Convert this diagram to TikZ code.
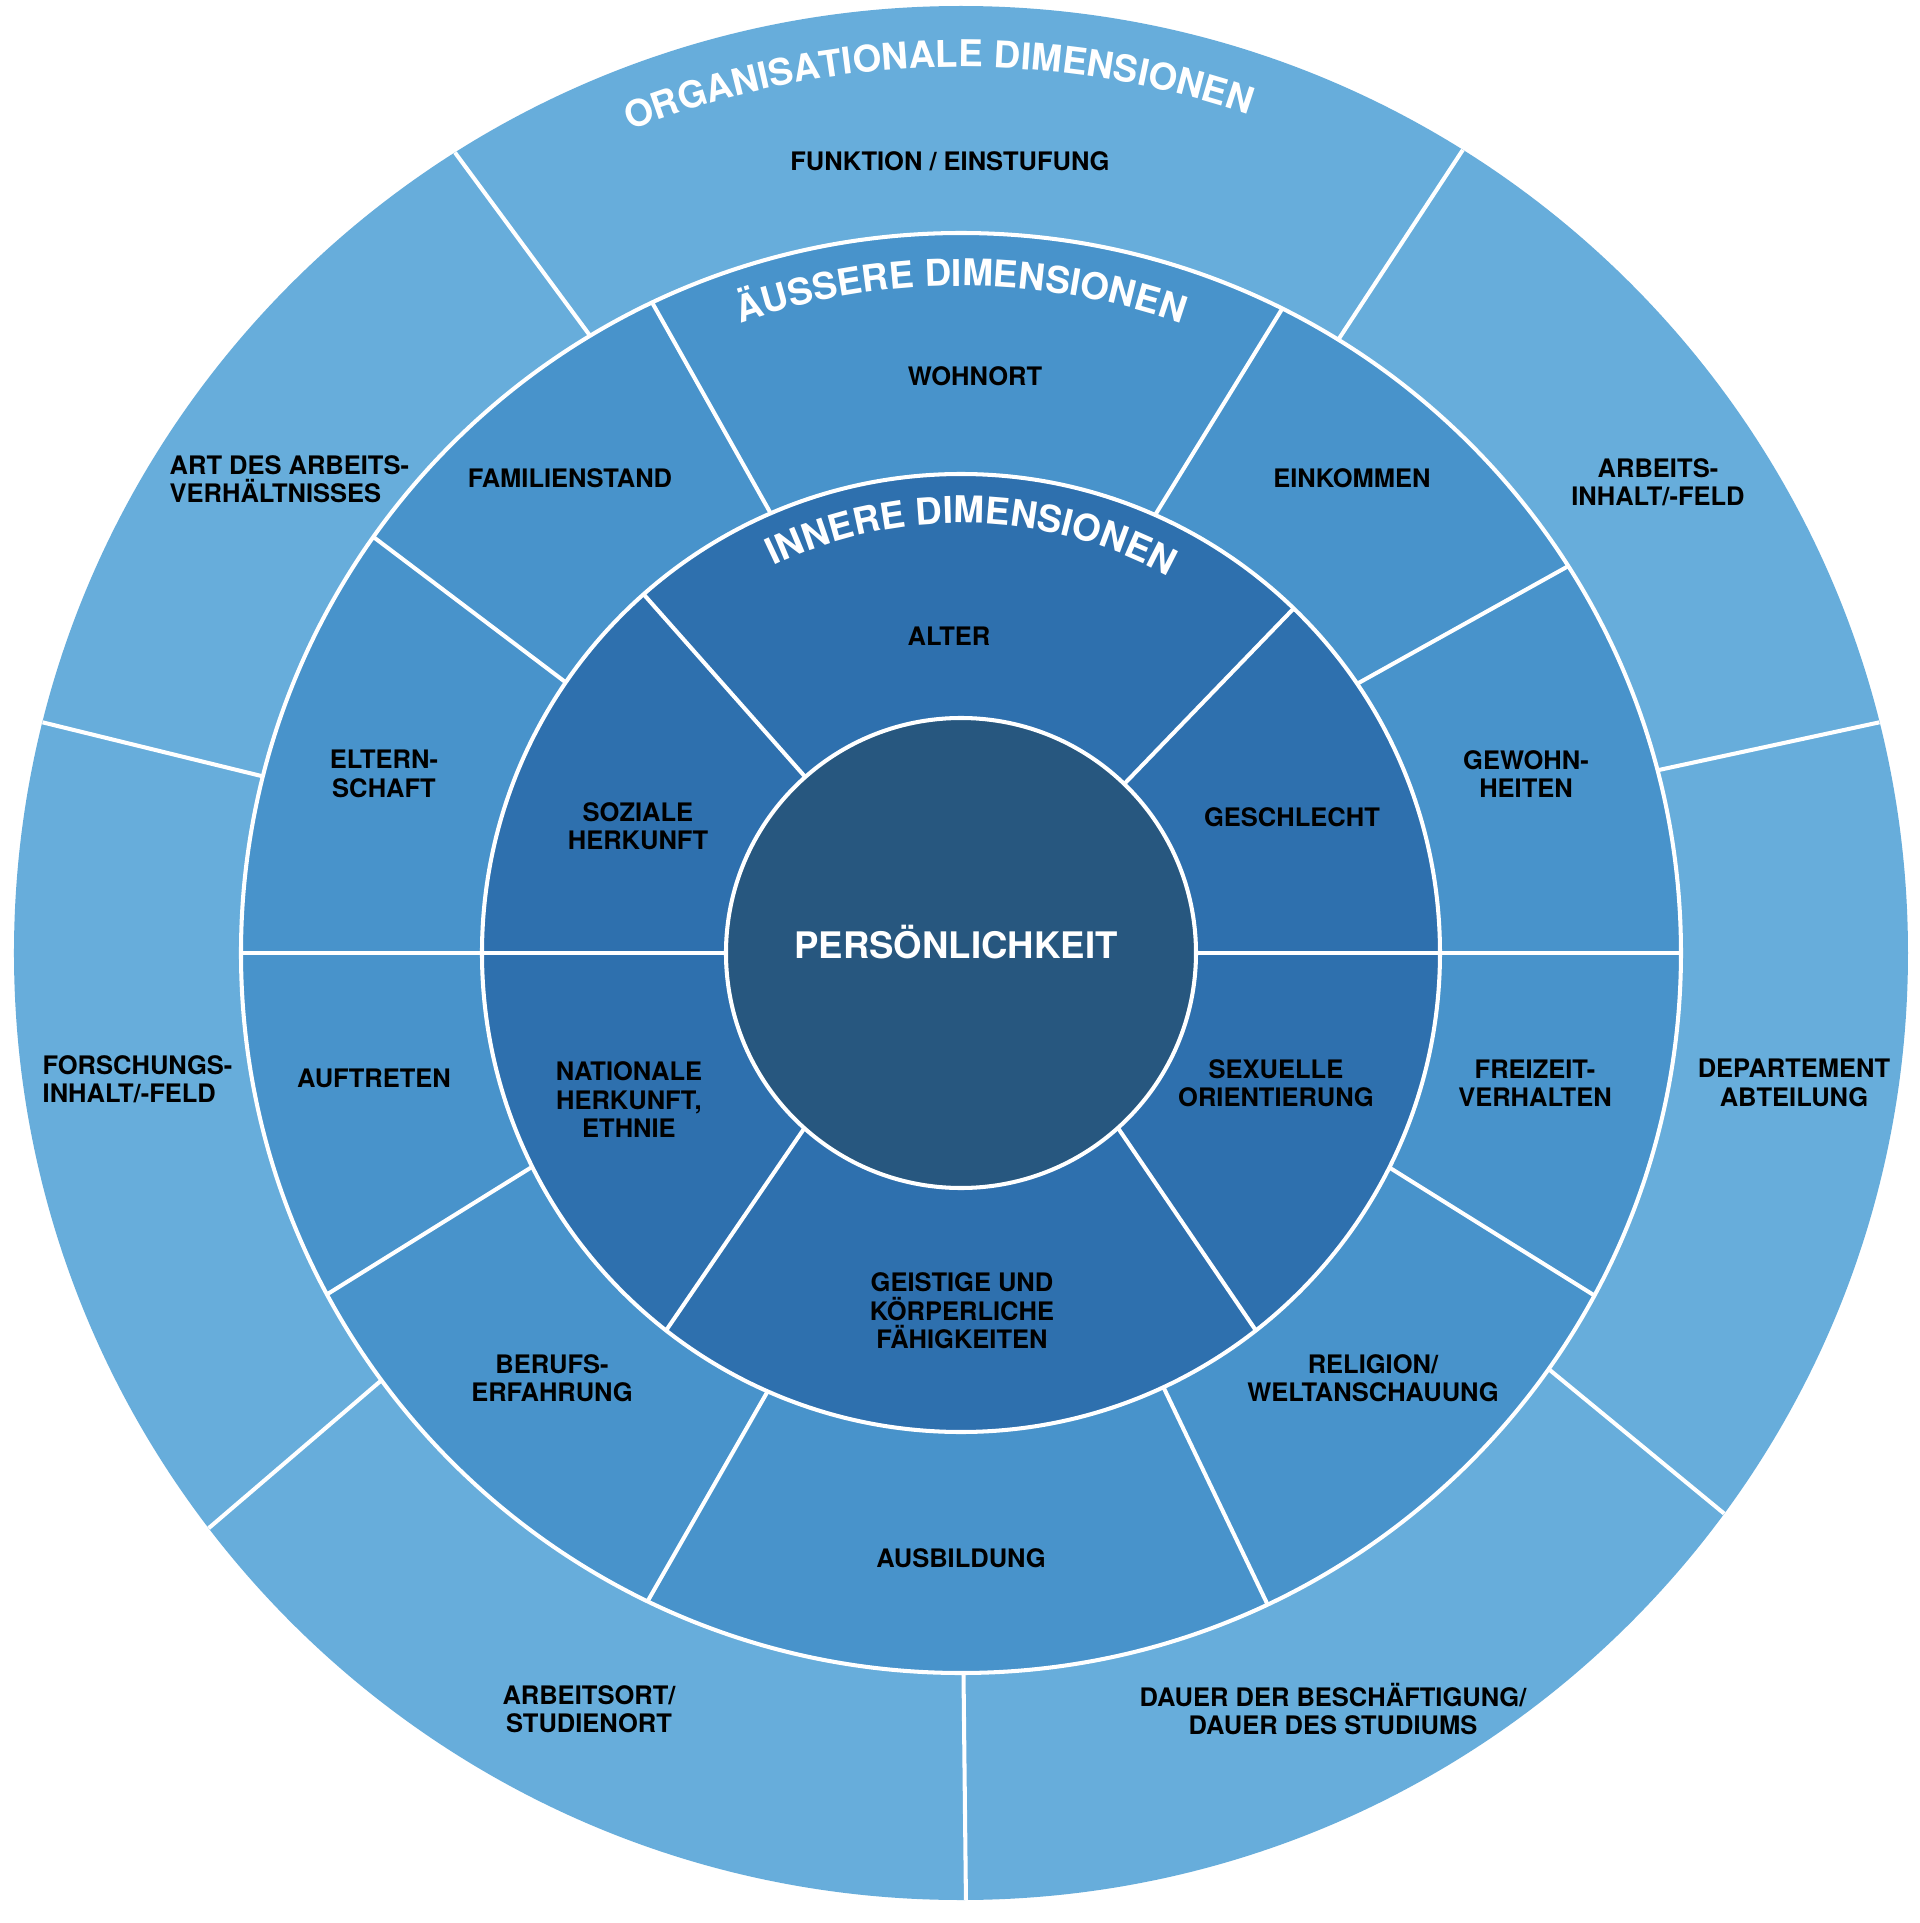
\documentclass[tikz,border=0pt]{standalone}
\usepackage{fontspec}
\setmainfont{TeX Gyre Heros}
\usetikzlibrary{decorations.text}
\definecolor{cOuter}{HTML}{67ADDB}
\definecolor{cMid}{HTML}{4893CB}
\definecolor{cInner}{HTML}{2E70AE}
\definecolor{cCore}{HTML}{27577F}
\newcommand\labfont{\fontsize{7.25}{8.1}\selectfont\bfseries}
\newcommand\titfont{\fontsize{10.5}{12}\selectfont\bfseries}
\newcommand\corefont{\fontsize{10.4}{12}\selectfont\bfseries}
\begin{document}
\begin{tikzpicture}[x=0.01cm, y=0.01cm,
  lab/.style={font=\labfont, align=center, inner sep=0pt, text=black},
  sepline/.style={white, line width=1.15pt},
  titlearc/.style={decorate, decoration={text along path, text align=center, text={|\color{white}\titfont|#1}}}
]
\fill[white] (-961,-970) rectangle (959,953);
\useasboundingbox (-961,-970) rectangle (959,953);
% rings
\fill[cOuter] (0,0) circle[radius=947];
\fill[cMid] (0,0) circle[radius=720];
\fill[cInner] (0,0) circle[radius=479];
\fill[cCore] (0,0) circle[radius=235];
% radial separators: inner ring
\foreach \a/\b in {131.5/131.5, 46/46, 0/0, 180/180, -48.1/-52, -131.8/-128}
  \draw[sepline] (\a:235) -- (\b:479);
% middle ring
\foreach \a/\b in {113.4/115.4, 66.1/63.5, 34.2/32.5, 0/0, -26.6/-28.4, -65/-64.8, -113.8/-115.8, -153.5/-151.7, 180/180, 145.6/144.7}
  \draw[sepline] (\a:479) -- (\b:720);
% outer ring
\foreach \a/\b in {121/122.3, 58.4/58, 14.7/14.1, -35.3/-36.3, -89.8/-89.7, -143.6/-142.6, 165.8/165.9}
  \draw[sepline] (\a:720) -- (\b:947);
% ring borders
\draw[sepline] (0,0) circle[radius=720];
\draw[sepline] (0,0) circle[radius=479];
\draw[sepline] (0,0) circle[radius=235];
% curved titles
\path[titlearc={ORGANISATIONALE DIMENSIONEN}] (131.5:886) arc[start angle=131.5, end angle=51.5, radius=886];
\path[titlearc={ÄUSSERE DIMENSIONEN}] (130:667) arc[start angle=130, end angle=50, radius=667];
\path[titlearc={INNERE DIMENSIONEN}] (128.5:430) arc[start angle=128.5, end angle=48.5, radius=430];
% centre
\node[font=\corefont, text=white, inner sep=0pt] (core) at (-5,11) {PERSÖNLICHKEIT};
% outer labels
\node[lab] (funktion) at (-11,792) {FUNKTION / EINSTUFUNG};
\node[lab, anchor=west, align=left] (artdes) at (-792,474) {ART DES ARBEITS-\\VERHÄLTNISSES};
\node[lab] (inhalt) at (697,471) {ARBEITS-\\INHALT/-FELD};
\node[lab, anchor=west, align=left] (forschung) at (-919,-126) {FORSCHUNGS-\\INHALT/-FELD};
\node[lab] (departement) at (833,-130) {DEPARTEMENT\\ABTEILUNG};
\node[lab] (arbeitsort) at (-372,-756) {ARBEITSORT/\\STUDIENORT};
\node[lab] (dauer) at (372,-756) {DAUER DER BESCHÄFTIGUNG/\\DAUER DES STUDIUMS};
% middle labels
\node[lab] (wohnort) at (14,577) {WOHNORT};
\node[lab] (familie) at (-391,475) {FAMILIENSTAND};
\node[lab] (einkommen) at (391,475) {EINKOMMEN};
\node[lab] (eltern) at (-577,179) {ELTERN-\\SCHAFT};
\node[lab] (gewohn) at (565,179) {GEWOHN-\\HEITEN};
\node[lab] (auftreten) at (-587,-125) {AUFTRETEN};
\node[lab] (freizeit) at (574,-130) {FREIZEIT-\\VERHALTEN};
\node[lab] (beruf) at (-409,-425) {BERUFS-\\ERFAHRUNG};
\node[lab] (religion) at (412,-425) {RELIGION/\\WELTANSCHAUUNG};
\node[lab] (ausbildung) at (0,-605) {AUSBILDUNG};
% inner labels
\node[lab] (alter) at (-12,317) {ALTER};
\node[lab] (sozial) at (-323,127) {SOZIALE\\HERKUNFT};
\node[lab] (geschlecht) at (331,136) {GESCHLECHT};
\node[lab] (national) at (-332,-147) {NATIONALE\\HERKUNFT,\\ETHNIE};
\node[lab] (sexuell) at (315,-130) {SEXUELLE\\ORIENTIERUNG};
\node[lab] (geistig) at (1,-358) {GEISTIGE UND\\KÖRPERLICHE\\FÄHIGKEITEN};
\end{tikzpicture}
\end{document}
